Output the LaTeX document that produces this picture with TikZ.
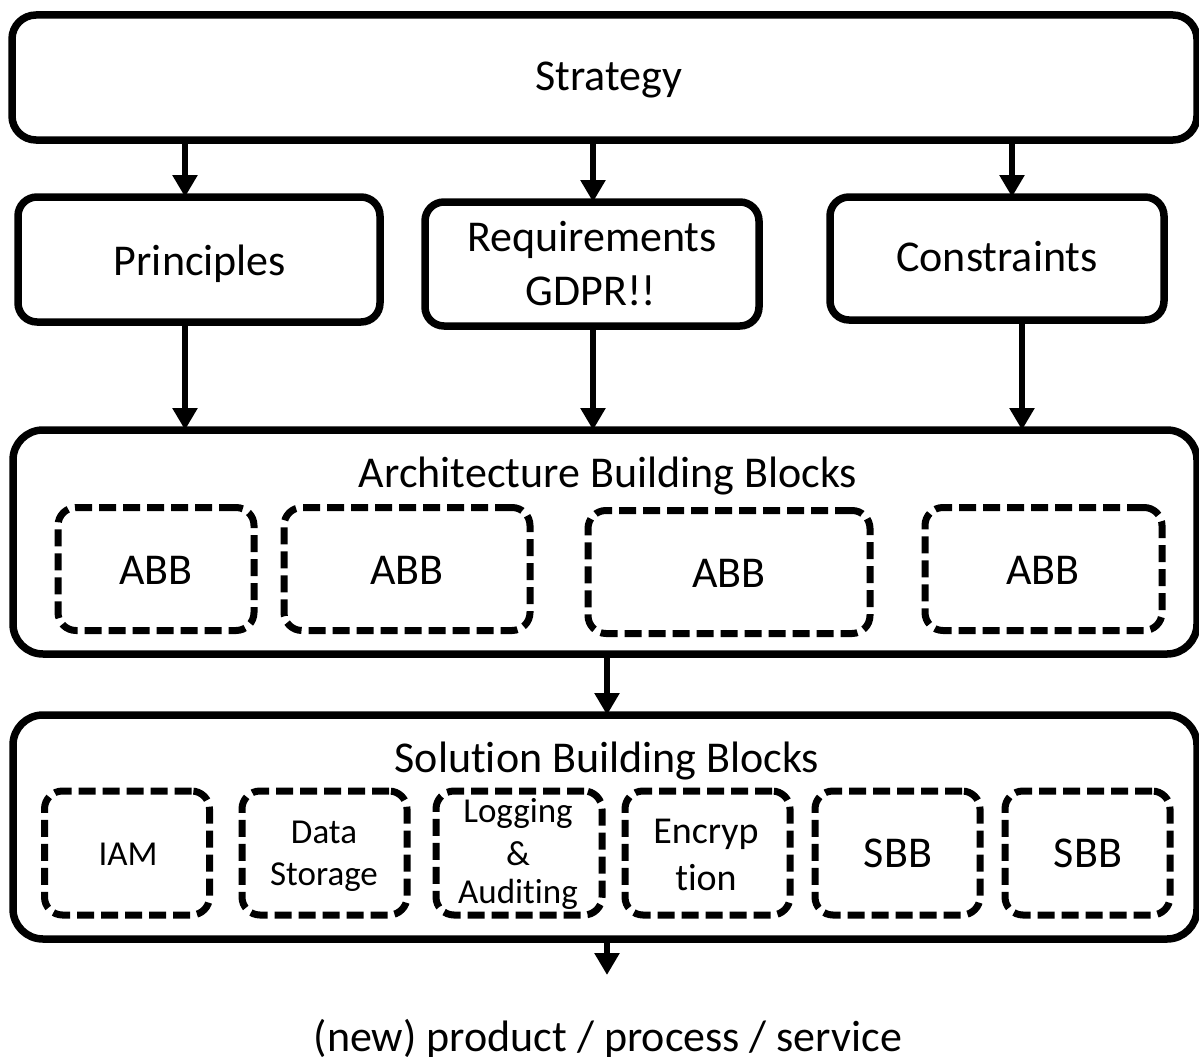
\documentclass[tikz,border=0pt]{standalone}
\usepackage{fontspec}
\setmainfont{Carlito}[Ligatures=NoCommon]
\usetikzlibrary{arrows.meta}
\begin{document}
\begin{tikzpicture}[x=1pt,y=-1pt,
  sz/.style 2 args={minimum width=#1pt, minimum height=#2pt},
  box/.style={draw, line width=7.5pt, rounded corners=19pt, inner sep=0pt, outer sep=0pt},
  bigbox/.style={box, rounded corners=30pt},
  block/.style={draw, line width=7pt, rounded corners=18pt,
    dash pattern=on 17pt off 7pt, inner sep=0pt, outer sep=0pt},
  txt/.style={anchor=base, inner sep=0pt, font=\fontsize{44}{53}\selectfont},
  small/.style={txt, font=\fontsize{35}{42}\selectfont},
  mid/.style={txt, font=\fontsize{38}{46}\selectfont},
  arr/.style={line width=6pt, -{Triangle[length=22pt,width=24pt]}}]
\useasboundingbox (0,0) rectangle (1199,1057);

% arrow columns
\coordinate (c1) at (185,0);
\coordinate (c2) at (593,0);
\coordinate (c3) at (1012,0);
\coordinate (c4) at (1022,0);
\coordinate (c5) at (607,0);

% top level
\node[box, rounded corners=24pt, sz={1185}{125}] (strategy) at (604.5,77.5) {};
\node[txt] (strategy-t) at (609,90) {Strategy};

% second level
\node[box, sz={362}{125}] (principles) at (199,259.5) {};
\node[txt] (principles-t) at (200,275) {Principles};

\node[box, sz={334}{124}] (requirements) at (592,264) {};
\node[txt] (requirements-t1) at (592,251) {Requirements};
\node[txt] (requirements-t2) at (591,305) {GDPR!!};

\node[box, sz={334}{123}] (constraints) at (997,258.5) {};
\node[txt] (constraints-t) at (997,271) {Constraints};

% architecture building blocks
\node[bigbox, sz={1184}{224}] (abbarea) at (605,542) {};
\node[txt] (abbarea-t) at (608,487) {Architecture Building Blocks};
\node[block, sz={196}{123}] (abb1) at (156,569) {};
\node[block, sz={246}{123}] (abb2) at (407,569) {};
\node[block, sz={282}{123}] (abb3) at (729,572) {};
\node[block, sz={237}{123}] (abb4) at (1043.5,569) {};
\node[txt] (abb1-t) at (156,584) {ABB};
\node[txt] (abb2-t) at (407,584) {ABB};
\node[txt] (abb3-t) at (729,587) {ABB};
\node[txt] (abb4-t) at (1043,584) {ABB};

% solution building blocks
\node[bigbox, sz={1184}{224}] (sbbarea) at (605,827) {};
\node[txt] (sbbarea-t) at (607,772) {Solution Building Blocks};
\node[block, sz={165}{124}] (iam) at (127,853) {};
\node[block, sz={165}{124}] (storage) at (324.5,853) {};
\node[block, sz={166}{124}] (logging) at (519,853) {};
\node[block, sz={165}{124}] (encryption) at (707.5,853) {};
\node[block, sz={165}{124}] (sbb1) at (897.5,853) {};
\node[block, sz={165}{124}] (sbb2) at (1087.5,853) {};
\node[small] (iam-t) at (128,865) {IAM};
\node[small] (storage-t1) at (324,843) {Data};
\node[small] (storage-t2) at (324,885) {Storage};
\node[small] (logging-t1) at (518,822) {Logging};
\node[small] (logging-t2) at (518,865) {\&};
\node[small] (logging-t3) at (518,903) {Auditing};
\node[mid] (encryption-t1) at (706,843) {Encryp};
\node[mid] (encryption-t2) at (706,890) {tion};
\node[txt] (sbb1-t) at (898,867) {SBB};
\node[txt] (sbb2-t) at (1088,867) {SBB};

% result
\coordinate (outtip) at (607,975);
\node[txt] (result) at (608,1051) {(new) product / process / service};

% connectors
\draw[arr] (strategy.south -| c1) -- (principles.north -| c1);
\draw[arr] (strategy.south -| c2) -- (requirements.north -| c2);
\draw[arr] (strategy.south -| c3) -- (constraints.north -| c3);
\draw[arr] (principles.south -| c1) -- (abbarea.north -| c1);
\draw[arr] (requirements.south -| c2) -- (abbarea.north -| c2);
\draw[arr] (constraints.south -| c4) -- (abbarea.north -| c4);
\draw[arr] (abbarea.south -| c5) -- (sbbarea.north -| c5);
\draw[arr] (sbbarea.south -| c5) -- (outtip);
\end{tikzpicture}
\end{document}
